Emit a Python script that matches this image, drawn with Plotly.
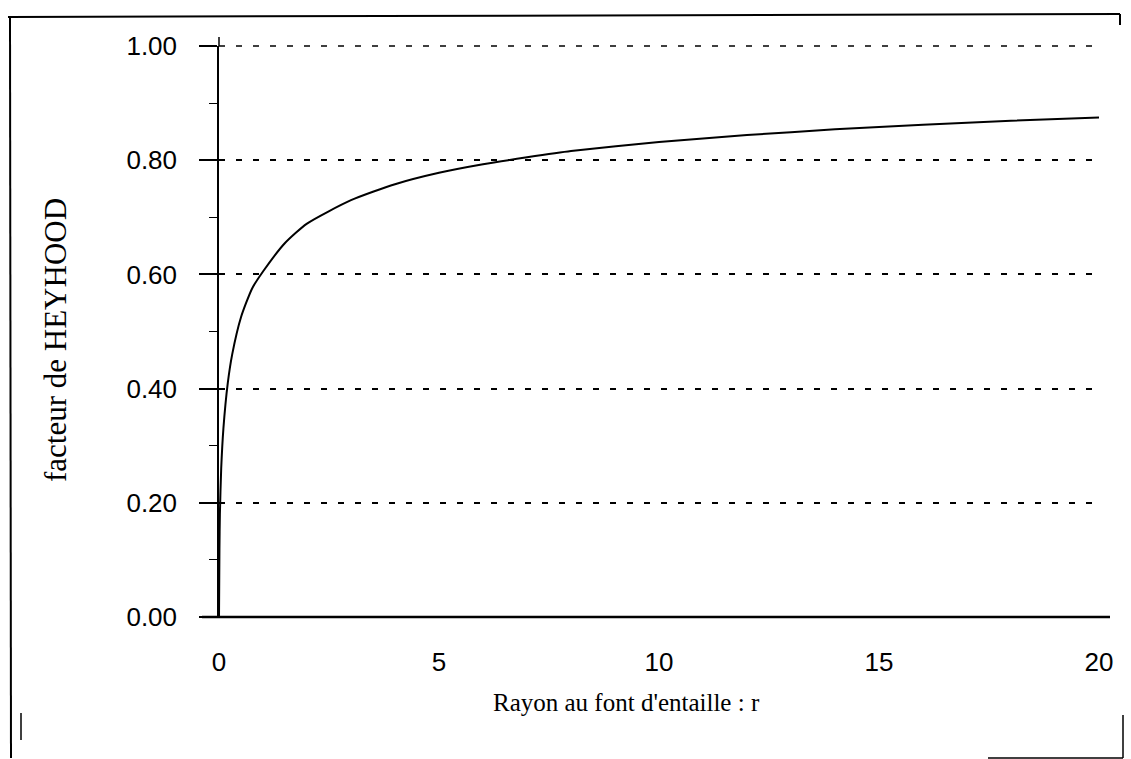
import plotly.graph_objects as go

# Data
r_values = [0, 0.01, 0.02, 0.05, 0.1, 0.2, 0.3, 0.5, 0.75, 1, 1.5, 2, 3, 4, 5, 6, 7, 8, 10, 12, 14, 16, 18, 20]
heywood = [0, 0.12, 0.18, 0.26, 0.33, 0.41, 0.46, 0.525, 0.575, 0.605, 0.655, 0.689, 0.73, 0.758, 0.778,
           0.793, 0.805, 0.816, 0.832, 0.844, 0.854, 0.862, 0.869, 0.875]
x_ticks = [0, 5, 10, 15, 20]
y_ticks = [0.0, 0.2, 0.4, 0.6, 0.8, 1.0]
y_tick_text = ["0.00", "0.20", "0.40", "0.60", "0.80", "1.00"]

W, H = 1131, 759
L, R, T, B = 219, 32, 46, 142
PW, PH = W - L - R, H - T - B


def px(x):
    return (x - L) / PW


def py(y):
    return (H - B - y) / PH


fig = go.Figure()
fig.add_trace(go.Scatter(x=r_values, y=heywood, mode="lines",
                         line=dict(color="black", width=2, shape="spline", smoothing=0.6),
                         showlegend=False, hoverinfo="skip"))

tick_font = dict(size=26, family="Liberation Sans, Arial", color="black")
fig.update_layout(
    width=W, height=H,
    margin=dict(l=L, r=R, t=T, b=B, pad=0),
    paper_bgcolor="white", plot_bgcolor="white",
    font=dict(family="Liberation Sans, Arial", color="black"),
    xaxis=dict(range=[0, 20], tickvals=x_ticks, ticktext=[str(v) for v in x_ticks],
               showgrid=False, zeroline=False, showline=False,
               ticks="outside", ticklen=22, tickcolor="rgba(0,0,0,0)",
               tickfont=tick_font),
    yaxis=dict(range=[0, 1], tickvals=y_ticks, ticktext=y_tick_text,
               showgrid=True, gridcolor="black", gridwidth=1.6, griddash="6px,11px",
               zeroline=False, showline=True, linecolor="black", linewidth=1.5,
               ticks="outside", ticklen=18, tickcolor="black", tickwidth=1.5,
               ticklabelstandoff=17,
               tickfont=tick_font,
               minor=dict(tickvals=[0.1, 0.3, 0.5, 0.7, 0.9], ticks="outside", ticklen=8,
                          tickcolor="black", tickwidth=1, showgrid=False)),
)

shapes = []
# dashed gridline at 1.00 (at the top edge of the plot area)
shapes.append(dict(type="line", xref="paper", yref="paper", x0=0, x1=1, y0=1, y1=1,
                   line=dict(color="black", width=1.6, dash="6px,11px")))
# solid baseline at 0
shapes.append(dict(type="line", xref="paper", yref="paper", x0=px(202), x1=px(1110), y0=0, y1=0,
                   line=dict(color="black", width=2.5)))
# axis extension above 1.00
shapes.append(dict(type="line", xref="paper", yref="paper", x0=0, x1=0, y0=1, y1=py(37),
                   line=dict(color="black", width=1.5)))
# scanned frame
frame = [
    ((8, 17), (1120, 14), 2),
    ((1120, 14), (1120, 25), 2),
    ((10, 17), (11, 758), 2),
    ((988, 758), (1123, 758), 1.5),
    ((1123, 715), (1123, 758), 1.5),
    ((21, 713), (21, 740), 1.5),
]
for (x0, y0), (x1, y1), w in frame:
    shapes.append(dict(type="line", xref="paper", yref="paper",
                       x0=px(x0), y0=py(y0), x1=px(x1), y1=py(y1),
                       line=dict(color="black", width=w)))
fig.update_layout(shapes=shapes)

fig.add_annotation(text="facteur de HEYHOOD", xref="paper", yref="paper",
                   x=px(55), y=py(340), textangle=-90, showarrow=False,
                   xanchor="center", yanchor="middle",
                   font=dict(family="Liberation Serif, Times New Roman", size=31, color="black"))
fig.add_annotation(text="Rayon au font d'entaille : r", xref="paper", yref="paper",
                   x=px(626), y=py(702), showarrow=False,
                   xanchor="center", yanchor="middle",
                   font=dict(family="Liberation Serif, Times New Roman", size=25, color="black"))

fig.write_html("out.html")
